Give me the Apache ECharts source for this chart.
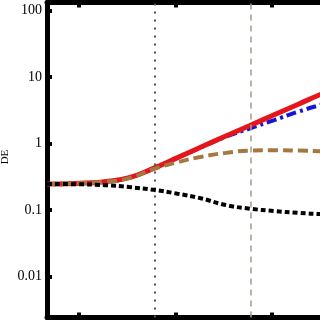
<!DOCTYPE html>
<html>
<head>
<meta charset="utf-8">
<script src="https://cdn.jsdelivr.net/npm/echarts@6/dist/echarts.min.js"></script>
<style>html,body{margin:0;padding:0;background:#fff}#c{width:320px;height:320px}</style>
</head>
<body>
<div id="c"></div>
<script>
// shared x positions (arbitrary units of the horizontal axis)
var xs = [0, 0.3, 0.6, 0.85, 1.1, 1.35, 1.6, 1.85, 2.1, 2.35, 2.6, 2.85, 3.0];
var redVals   = [0.245, 0.25, 0.265, 0.305, 0.42, 0.61, 0.89, 1.29, 1.86, 2.69, 3.89, 5.62, 6.9];
var blueVals  = [0.245, 0.25, 0.265, 0.305, 0.42, 0.61, 0.88, 1.26, 1.68, 2.24, 3.0, 3.85, 4.27];
var brownVals = [0.245, 0.25, 0.265, 0.30, 0.41, 0.52, 0.63, 0.72, 0.78, 0.79, 0.78, 0.76, 0.75];
var blackVals = [0.245, 0.243, 0.235, 0.22, 0.20, 0.175, 0.148, 0.118, 0.104, 0.096, 0.090, 0.086, 0.085];
var xTicks = [0.33, 1.33, 2.33];
var yTicks = [0.01, 0.1, 1, 10, 100];
var yTickLabels = ['0.01', '0.1', '1', '10', '100'];
var vDotted = 1.107;
var vDashed = 2.11;
var xMax = 2.824;

function pairs(v){ return xs.map(function(x,i){ return [x, v[i]]; }); }

var chart = echarts.init(document.getElementById('c'), null, {renderer:'canvas'});
var axisLine = {show:true, lineStyle:{color:'#000', width:5}};
var tick = {show:true, inside:true, length:5, lineStyle:{color:'#000', width:4}};
chart.setOption({
  animation:false,
  backgroundColor:'#fff',
  grid:{left:47, top:2.5, right:0, bottom:2.5},
  xAxis:[
    {type:'value', min:0, max:xMax, position:'bottom', axisLine:axisLine,
     axisTick:Object.assign({customValues:xTicks}, tick), axisLabel:{show:false}, splitLine:{show:false}},
    {type:'value', min:0, max:xMax, position:'top', axisLine:axisLine,
     axisTick:Object.assign({customValues:xTicks}, tick), axisLabel:{show:false}, splitLine:{show:false}}
  ],
  yAxis:{type:'log', logBase:10, min:Math.pow(10,-2.62), max:Math.pow(10,2.12),
    axisLine:axisLine,
    axisTick:Object.assign({customValues:yTicks}, tick),
    axisLabel:{customValues:yTicks, margin:5, color:'#000', fontFamily:'Liberation Serif', fontSize:14,
      formatter:function(v){ var i=yTicks.indexOf(v); if(i<0){ for(var k=0;k<yTicks.length;k++){ if(Math.abs(Math.log10(v)-Math.log10(yTicks[k]))<1e-6) i=k; } } return i>=0?yTickLabels[i]:''; }},
    splitLine:{show:false}},
  graphic:[
    {type:'text', x:5, y:157, rotation:Math.PI/2, style:{text:'DE', font:'11px "Liberation Serif"', fill:'#000', align:'center', verticalAlign:'middle'}},
    {type:'text', x:-6, y:176, rotation:Math.PI/2, style:{text:'Ω', font:'20px "Liberation Serif"', fill:'#000', align:'center', verticalAlign:'middle'}}
  ],
  series:[
    {type:'line', data:pairs(blueVals), smooth:true, symbol:'none', z:2,
     lineStyle:{color:'#1515d6', width:4, type:[10,4,3,4], cap:'butt'},
     markLine:{silent:true, symbol:'none', label:{show:false},
       data:[{xAxis:vDotted, lineStyle:{color:'#555', width:2, type:[2,6]}},
             {xAxis:vDashed, lineStyle:{color:'#a8998a', width:1.5, type:[6,5]}}]}},
    {type:'line', data:pairs(redVals), smooth:true, symbol:'none', z:3,
     lineStyle:{color:'#e4161c', width:5}},
    {type:'line', data:pairs(brownVals), smooth:true, symbol:'none', z:4,
     lineStyle:{color:'#a57840', width:4, type:[10,5], cap:'butt'}},
    {type:'line', data:pairs(blackVals), smooth:true, symbol:'none', z:5,
     lineStyle:{color:'#000', width:4, type:[5,3], cap:'butt'}}
  ]
});
</script>
</body>
</html>
